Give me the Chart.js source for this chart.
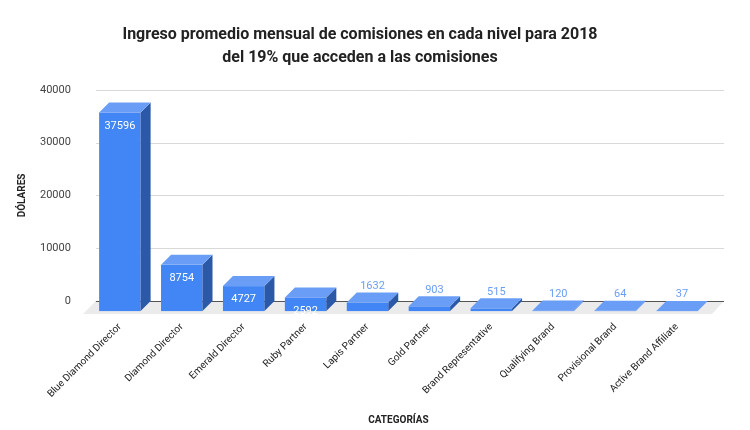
<!DOCTYPE html>
<html><head><meta charset="utf-8">
<script src="https://cdn.jsdelivr.net/npm/chart.js@4"></script>
<style>html,body{margin:0;padding:0;background:#fff}#w{width:750px;height:430px}</style>
</head><body><div id="w"><canvas id="c"></canvas></div>
<script>
const categories = ["Blue Diamond Director","Diamond Director","Emerald Director","Ruby Partner","Lapis Partner","Gold Partner","Brand Representative","Qualifying Brand","Provisional Brand","Active Brand Affiliate"];
const values = [37596, 8754, 4727, 2592, 1632, 903, 515, 120, 64, 37];
const yTicks = [0, 10000, 20000, 30000, 40000];

const DX = 10, DY = 10;
const threeD = {
  id: 'threeD',
  beforeDatasetsDraw(chart) {
    const {ctx, chartArea: a, scales: {y}} = chart;
    const y0 = y.getPixelForValue(0);
    ctx.save();
    ctx.fillStyle = '#ebebeb';
    ctx.beginPath();
    ctx.moveTo(a.left + 7, y0); ctx.lineTo(a.right + 16, y0);
    ctx.lineTo(a.right + 4, y0 + 13); ctx.lineTo(a.left - 6, y0 + 13);
    ctx.closePath(); ctx.fill();
    ctx.lineWidth = 1;
    yTicks.forEach(v => {
      const p = Math.round(y.getPixelForValue(v)) + 0.5;
      ctx.strokeStyle = v === 0 ? '#555' : '#d9d9d9';
      ctx.beginPath(); ctx.moveTo(a.left + 7, p); ctx.lineTo(a.right + 16, p); ctx.stroke();
    });
    ctx.restore();
  },
  afterDatasetsDraw(chart) {
    const {ctx, scales: {y}} = chart;
    const meta = chart.getDatasetMeta(0);
    const y0 = y.getPixelForValue(0);
    ctx.save();
    meta.data.forEach((el, i) => {
      const w = el.width, l = el.x - w / 2, r = el.x + w / 2;
      const top = el.y + DY, bot = y0 + DY;
      ctx.fillStyle = '#4285f4';
      ctx.fillRect(l, top, w, bot - top);
      ctx.fillStyle = '#2b59a8';
      ctx.beginPath();
      ctx.moveTo(r, top); ctx.lineTo(r + DX, top - DY); ctx.lineTo(r + DX, bot - DY); ctx.lineTo(r, bot);
      ctx.closePath(); ctx.fill();
      ctx.fillStyle = '#6a9ef6';
      ctx.beginPath();
      ctx.moveTo(l, top); ctx.lineTo(l + DX, top - DY); ctx.lineTo(r + DX, top - DY); ctx.lineTo(r, top);
      ctx.closePath(); ctx.fill();
      ctx.font = '11px Roboto';
      ctx.textAlign = 'center';
      if (i < 4) {
        ctx.fillStyle = '#ffffff'; ctx.textBaseline = 'top';
        ctx.fillText(String(values[i]), el.x, top + 8);
      } else {
        ctx.fillStyle = '#6a9ef6'; ctx.textBaseline = 'bottom';
        ctx.fillText(String(values[i]), el.x + DX / 2, top - DY - 1);
      }
    });
    ctx.restore();
  }
};

new Chart(document.getElementById('c'), {
  type: 'bar',
  data: { labels: categories, datasets: [{ data: values, backgroundColor: 'rgba(0,0,0,0)', barPercentage: 0.67, categoryPercentage: 1 }] },
  plugins: [threeD],
  options: {
    responsive: true, maintainAspectRatio: false, animation: false,
    layout: { padding: { left: 12, right: 42, top: 10, bottom: 0 } },
    plugins: {
      legend: { display: false }, tooltip: { enabled: false },
      title: { display: true, text: ['Ingreso promedio mensual de comisiones en cada nivel para 2018', 'del 19% que acceden a las comisiones'],
        font: { family: 'Roboto', size: 16, weight: 'bold', lineHeight: 1.4 }, color: '#222', padding: { top: 14, bottom: 21 } }
    },
    scales: {
      y: { min: 0, max: 40000, afterBuildTicks(s) { s.ticks = yTicks.map(v => ({ value: v })); },
        grid: { display: false }, border: { display: false },
        ticks: { font: { family: 'Roboto', size: 11 }, color: '#444', padding: 10, callback: v => String(v) },
        title: { display: true, text: 'DÓLARES', font: { family: 'Roboto', size: 10, weight: 'bold' }, color: '#222', padding: { bottom: 2 } } },
      x: { grid: { display: false }, border: { display: false },
        ticks: { minRotation: 45, maxRotation: 45, autoSkip: false, font: { family: 'Roboto', size: 10 }, color: '#222', padding: 12 },
        title: { display: true, text: 'CATEGORÍAS', font: { family: 'Roboto', size: 10, weight: 'bold' }, color: '#222', padding: { top: 2 } } }
    }
  }
});
</script></body></html>
